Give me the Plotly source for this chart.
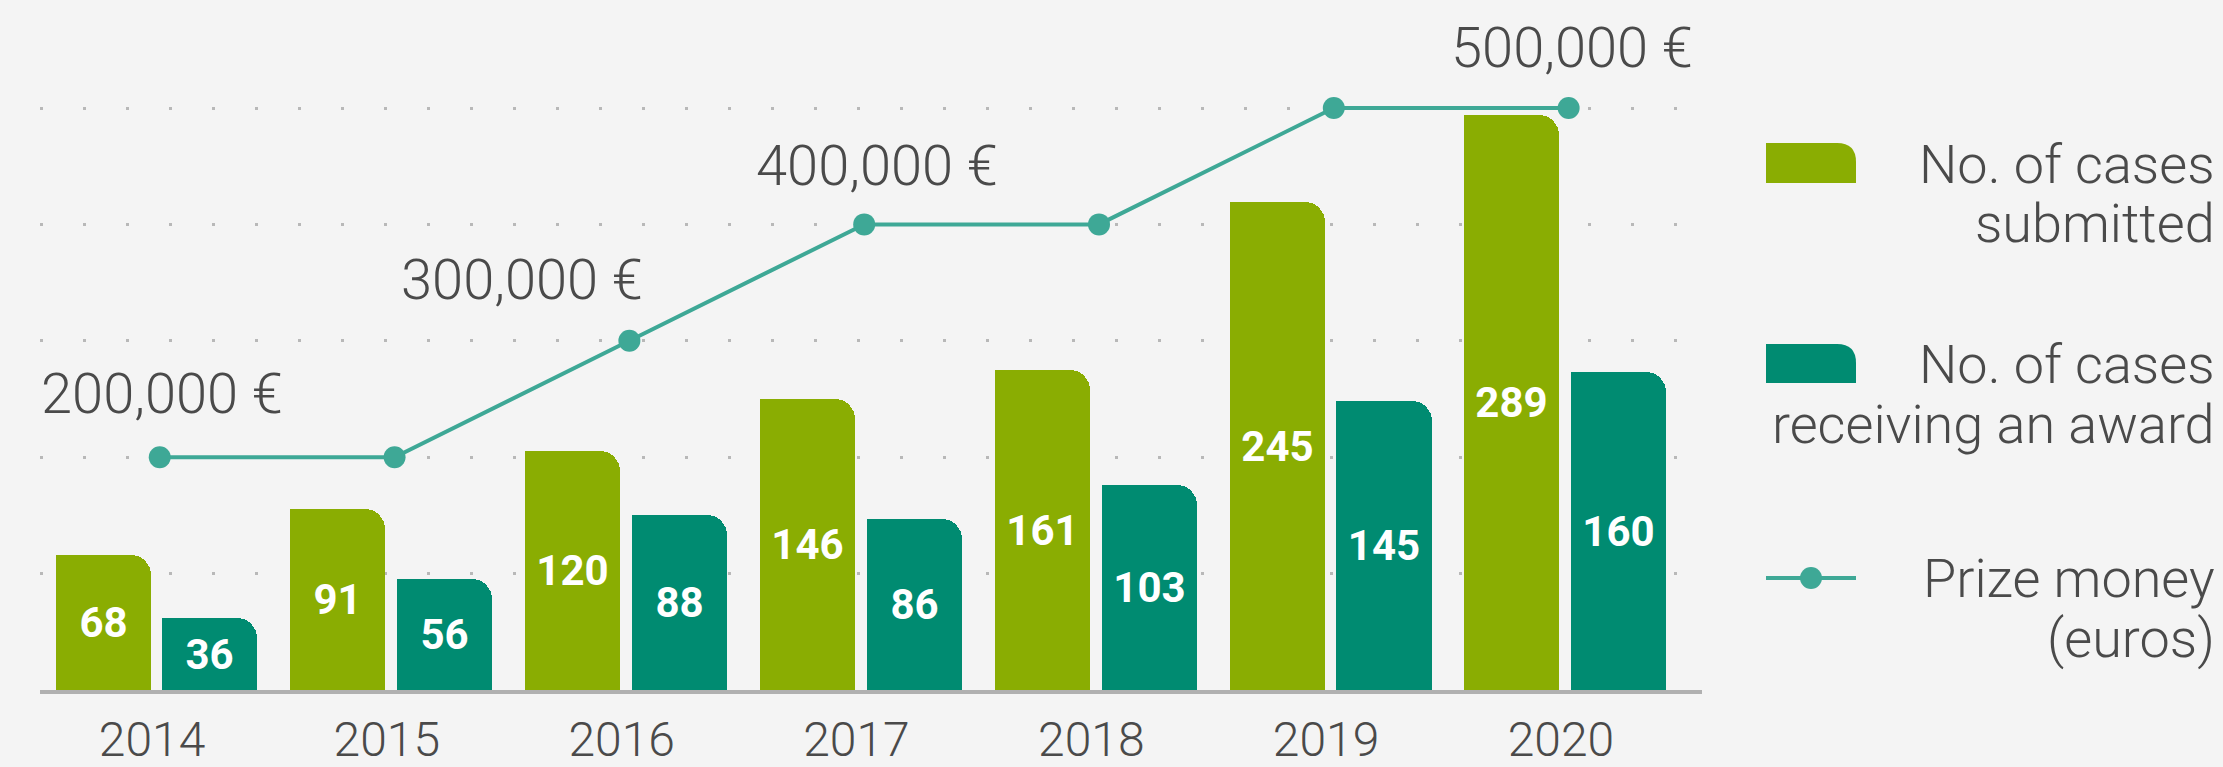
import plotly.graph_objects as go

# Data ---------------------------------------------------------------
years = [2014, 2015, 2016, 2017, 2018, 2019, 2020]
submitted = [68, 91, 120, 146, 161, 245, 289]
awarded = [36, 56, 88, 86, 103, 145, 160]
prize_money = [200000, 200000, 300000, 400000, 400000, 500000, 500000]

legend_lines = [['No. of cases', 'submitted'], ['No. of cases', 'receiving an award'], ['Prize money', '(euros)']]
# years whose prize value gets a text label, with the label nudge in px (dx, dy)
prize_labels = {2014: (2, 63), 2016: (-107, 61), 2017: (13, 58), 2020: (3, 60)}

# Style --------------------------------------------------------------
W, H = 2223, 767
BG = '#f4f4f4'
GREEN = '#8aad02'
TEAL = '#008b71'
LINE = '#3ea896'
TEXT = '#4a4a4a'
FONT = 'Roboto'

X_RANGE = [2013.523, 2020.601]
BAR_W = 0.405
GREEN_OFF = -0.411
TEAL_OFF = 0.044
LINE_SHIFT = 0.033   # the line markers sit a few px right of the year ticks


def px_x(p):
	return p / W


def px_y(p):
	return 1 - p / H


fig = go.Figure()

# square top-left corner: a half-width bar under each rounded bar
for vals, color, off in [(submitted, GREEN, GREEN_OFF), (awarded, TEAL, TEAL_OFF)]:
	fig.add_trace(go.Bar(
		x=years, y=vals, width=BAR_W / 2, offset=off,
		marker=dict(color=color, line_width=0),
		showlegend=False, hoverinfo='skip',
	))

for vals, color, off in [(submitted, GREEN, GREEN_OFF), (awarded, TEAL, TEAL_OFF)]:
	fig.add_trace(go.Bar(
		x=years, y=vals, width=BAR_W, offset=off,
		marker=dict(color=color, line_width=0, cornerradius=20),
		text=[str(v) for v in vals], textposition='inside', insidetextanchor='middle',
		textangle=0, textfont=dict(family=FONT, size=42, color='white', weight='bold'),
		showlegend=False,
	))

fig.add_trace(go.Scatter(
	x=years, y=prize_money, xaxis='x2', yaxis='y2',
	mode='lines+markers', line=dict(color=LINE, width=4),
	marker=dict(color=LINE, size=22), showlegend=False,
))

annotations = []
for yr, (dx, dy) in prize_labels.items():
	v = prize_money[years.index(yr)]
	annotations.append(dict(
		x=yr, y=v, xref='x2', yref='y2', text=f'{v:,} €', showarrow=False,
		xshift=dx, yshift=dy, xanchor='center', yanchor='middle',
		font=dict(family=FONT, size=56, color=TEXT, weight=300),
	))

# legend, drawn by hand so the text can be right aligned
shapes = []
for (top, bottom), color in [((143, 183), GREEN), ((344, 383), TEAL)]:
	x0, x1 = px_x(1766), px_x(1856)
	yt, yb = px_y(top), px_y(bottom)
	rx, ry = 19 / W, 19 / H
	shapes.append(dict(
		type='path', xref='paper', yref='paper', line_width=0, fillcolor=color,
		path=f'M {x0},{yb} L {x0},{yt} L {x1 - rx},{yt} Q {x1},{yt} {x1},{yt - ry} L {x1},{yb} Z',
	))
shapes.append(dict(type='line', xref='paper', yref='paper', x0=px_x(1766), x1=px_x(1856),
				   y0=px_y(578), y1=px_y(578), line=dict(color=LINE, width=4)))
shapes.append(dict(type='circle', xref='paper', yref='paper', x0=px_x(1800), x1=px_x(1822),
				   y0=px_y(589), y1=px_y(567), fillcolor=LINE, line_width=0))

legend_y = [(164, 224), (364, 424), (578, 638)]
for lines, ys in zip(legend_lines, legend_y):
	for txt, yy in zip(lines, ys):
		annotations.append(dict(
			x=px_x(2217), y=px_y(yy), xref='paper', yref='paper', text=txt, showarrow=False,
			xanchor='right', yanchor='middle', align='right',
			font=dict(family=FONT, size=54, color=TEXT, weight=300),
		))

y_range = [0, 650 / 1.99]
y2_range = [0, 650 / 116.4 * 100000]

fig.update_layout(
	width=W, height=H, template='none',
	paper_bgcolor=BG, plot_bgcolor=BG,
	margin=dict(l=0, r=0, t=0, b=0),
	barmode='overlay', bargap=0,
	font=dict(family=FONT, color=TEXT),
	xaxis=dict(
		domain=[px_x(40), px_x(1702)], range=X_RANGE, automargin=False,
		tickvals=years, ticktext=[str(y) for y in years], ticks='', showgrid=False, zeroline=False,
		showline=True, linecolor='#b0b0b0', linewidth=4, ticklabelstandoff=4,
		tickfont=dict(family=FONT, size=48, color=TEXT, weight=300),
	),
	xaxis2=dict(
		overlaying='x', range=[X_RANGE[0] - LINE_SHIFT, X_RANGE[1] - LINE_SHIFT],
		visible=False, anchor='y2',
	),
	yaxis=dict(
		domain=[px_y(690), px_y(40)], range=y_range, automargin=False,
		showgrid=False, zeroline=False, showticklabels=False, ticks='',
	),
	yaxis2=dict(
		overlaying='y', range=y2_range, anchor='x2', automargin=False,
		dtick=100000, showgrid=True, gridcolor='#b8b8b8', gridwidth=3, griddash='3px,40px',
		zeroline=False, showticklabels=False, ticks='',
	),
	shapes=shapes,
	annotations=annotations,
)

fig.write_html('out.html', config={'displayModeBar': False},
			   post_script="document.body.style.margin='0';document.body.style.overflow='hidden';")
